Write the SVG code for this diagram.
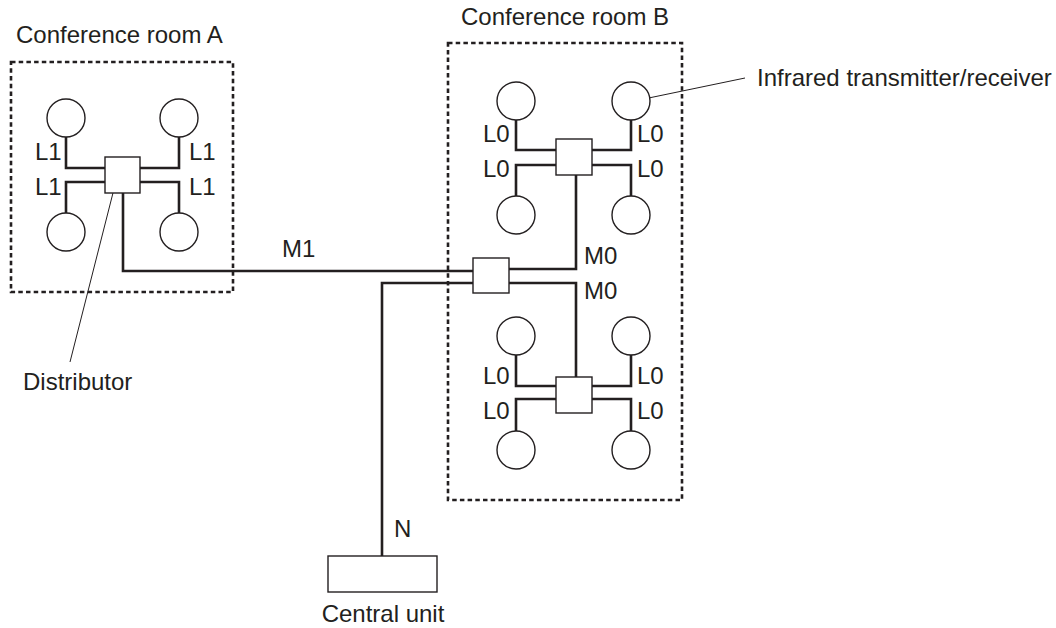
<svg xmlns="http://www.w3.org/2000/svg" width="1056" height="628" viewBox="0 0 1056 628">
<style>
text{font-family:"Liberation Sans",Arial,sans-serif;font-size:24px;fill:#231f20}
.room{fill:none;stroke:#231f20;stroke-width:2.6;stroke-dasharray:4.5 3.2}
.wire{fill:none;stroke:#231f20;stroke-width:2.6;stroke-linejoin:miter}
.ir{fill:#fff;stroke:#231f20;stroke-width:1.4}
.box{fill:#fff;stroke:#231f20;stroke-width:1.4}
.lead{fill:none;stroke:#231f20;stroke-width:1}
</style>
<rect width="1056" height="628" fill="#fff"/>
<g id="roomA">
<rect class="room" x="11" y="62" width="222" height="230"/>
<text x="16" y="43">Conference room A</text>
</g>
<g id="roomB">
<rect class="room" x="448" y="43" width="234" height="457"/>
<text x="461" y="25">Conference room B</text>
</g>
<g id="connectors">
<path class="wire" d="M66,137 V168 H105 M66,213 V182 H105 M179,137 V168 H140 M179,213 V182 H140"/>
<path class="wire" d="M123,193 V271 H473"/>
<path class="wire" d="M382,556 V283 H473"/>
<path class="wire" d="M509,269 H576 V175"/>
<path class="wire" d="M509,283 H576 V377"/>
<path class="wire" d="M516,120 V150 H556 M516,196 V165 H556 M631,120 V150 H592 M631,196 V165 H592"/>
<path class="wire" d="M516,355 V386 H556 M516,431 V399 H556 M631,355 V386 H592 M631,431 V399 H592"/>
<line class="lead" x1="115" y1="185" x2="70" y2="362"/>
<line class="lead" x1="639" y1="100" x2="745" y2="78"/>
<text x="35" y="160">L1</text>
<text x="35" y="195">L1</text>
<text x="189" y="160">L1</text>
<text x="189" y="195">L1</text>
<text x="282" y="257">M1</text>
<text x="584" y="264">M0</text>
<text x="584" y="299">M0</text>
<text x="394" y="537">N</text>
<text x="483" y="142">L0</text>
<text x="483" y="177">L0</text>
<text x="637" y="142">L0</text>
<text x="637" y="177">L0</text>
<text x="483" y="384">L0</text>
<text x="483" y="419">L0</text>
<text x="637" y="384">L0</text>
<text x="637" y="419">L0</text>
</g>
<g id="irA">
<circle class="ir" cx="66" cy="118" r="19"/>
<circle class="ir" cx="179" cy="118" r="19"/>
<circle class="ir" cx="66" cy="232" r="19"/>
<circle class="ir" cx="179" cy="232" r="19"/>
</g>
<g id="distA"><rect class="box" x="105" y="157" width="35" height="36"/></g>
<g id="irB1">
<circle class="ir" cx="516" cy="101" r="19"/>
<circle class="ir" cx="631" cy="101" r="19"/>
<circle class="ir" cx="516" cy="215" r="19"/>
<circle class="ir" cx="631" cy="215" r="19"/>
</g>
<g id="distB1"><rect class="box" x="556" y="139" width="36" height="36"/></g>
<g id="distB"><rect class="box" x="473" y="258" width="36" height="35"/></g>
<g id="irB2">
<circle class="ir" cx="516" cy="336" r="19"/>
<circle class="ir" cx="631" cy="336" r="19"/>
<circle class="ir" cx="516" cy="450" r="19"/>
<circle class="ir" cx="631" cy="450" r="19"/>
</g>
<g id="distB2"><rect class="box" x="556" y="377" width="36" height="36"/></g>
<g id="central">
<rect class="box" x="328" y="556" width="109" height="36"/>
<text x="383" y="622" text-anchor="middle">Central unit</text>
</g>
<g id="labels">
<text x="23" y="390">Distributor</text>
<text x="757" y="86">Infrared transmitter/receiver</text>
</g>
</svg>
